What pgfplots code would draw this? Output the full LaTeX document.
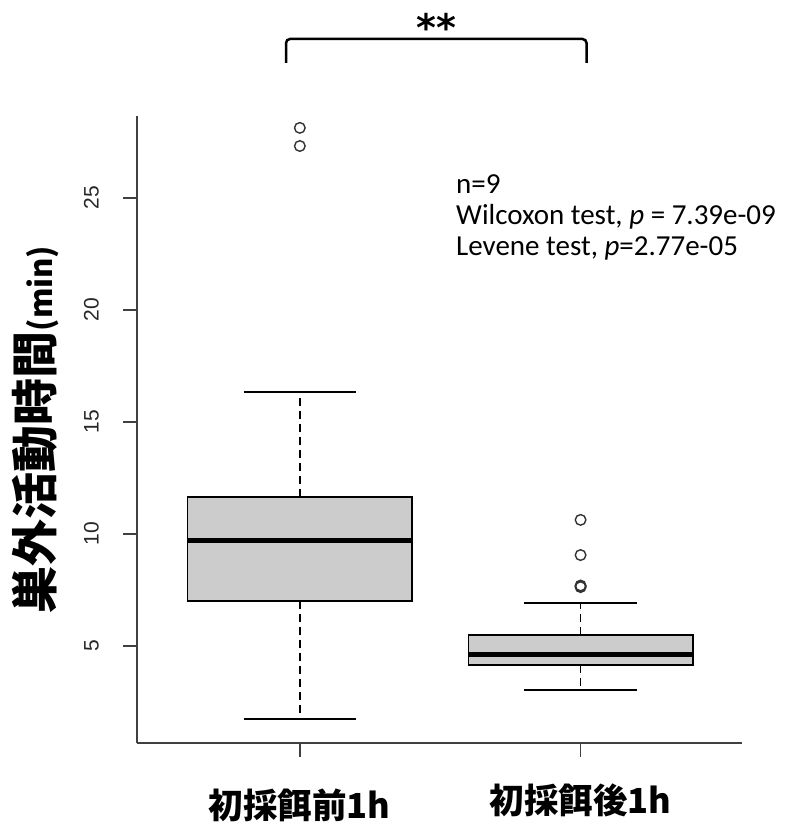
\documentclass[border=0pt]{standalone}
\usepackage{fontspec}
\usepackage{pgfplots}
\pgfplotsset{compat=1.18}
\usepgfplotslibrary{statistics}
\setmainfont{Carlito}
\newfontfamily\cjk{Noto Sans CJK JP}
\newfontfamily\arial{Liberation Sans}
\newfontfamily\djv{DejaVu Sans}
\pgfplotsset{
  boxplot/draw/lower whisker/.code={%
    \draw[dash pattern=on 8pt off 5pt, line width=1.4pt]
      (boxplot box cs:\pgfplotsboxplotvalue{lower quartile},0.5) --
      (boxplot box cs:\pgfplotsboxplotvalue{lower whisker},0.5);
    \draw[line width=1.4pt]
      (boxplot whisker cs:\pgfplotsboxplotvalue{lower whisker},0) --
      (boxplot whisker cs:\pgfplotsboxplotvalue{lower whisker},1);
  },
  boxplot/draw/upper whisker/.code={%
    \draw[dash pattern=on 8pt off 5pt, line width=1.4pt]
      (boxplot box cs:\pgfplotsboxplotvalue{upper quartile},0.5) --
      (boxplot box cs:\pgfplotsboxplotvalue{upper whisker},0.5);
    \draw[line width=1.4pt]
      (boxplot whisker cs:\pgfplotsboxplotvalue{upper whisker},0) --
      (boxplot whisker cs:\pgfplotsboxplotvalue{upper whisker},1);
  },
}
\begin{document}
\begin{tikzpicture}
\path[use as bounding box] (0pt,0pt) rectangle (785pt,824pt);
\begin{axis}[
  at={(137pt,81pt)}, anchor=south west,
  scale only axis, width=605pt, height=627pt,
  xmin=0.42, xmax=2.575, ymin=0.67, ymax=28.66,
  axis x line*=bottom, axis y line*=left,
  axis line style={black!75, line width=1.6pt},
  tick style={black!75, line width=1.6pt},
  tick align=outside, major tick length=14pt,
  xtick={1,2},
  xticklabels={初採餌前1h, \raisebox{5pt}{初採餌後1h}},
  xticklabel style={font=\cjk\bfseries\fontsize{34.5}{34.5}\selectfont, anchor=base, inner sep=0pt, yshift=-61pt},
  ytick={5,10,15,20,25},
  yticklabels={5,10,15,20,25},
  yticklabel style={font=\arial\fontsize{21}{21}\selectfont, text=black!85, rotate=90, anchor=south, inner sep=0pt, yshift=24pt},
  ylabel={\fontsize{47}{47}\selectfont 巣外活動時間{\fontsize{31}{31}\selectfont (min)}},
  every axis y label/.style={at={(axis description cs:-0.168,0.5)}, rotate=90, anchor=center, font=\cjk\bfseries, inner sep=0pt},
  clip=false,
  boxplot/draw direction=y,
  boxplot/every median/.style={line width=5pt},
]
\addplot[draw=black, fill=black!20, line width=1.4pt,
  boxplot prepared={draw position=1, box extend=0.8, whisker extend=0.4,
    lower whisker=1.74, lower quartile=7.01, median=9.69,
    upper quartile=11.65, upper whisker=16.34},
  mark=o, mark size=5.3pt, mark options={line width=1.4pt, draw=black!80, fill=none}]
  table[row sep=\\, y index=0] {28.13\\ 27.32\\};
\addplot[draw=black, fill=black!20, line width=1.4pt,
  boxplot prepared={draw position=2, box extend=0.8, whisker extend=0.4,
    lower whisker=3.04, lower quartile=4.15, median=4.64,
    upper quartile=5.49, upper whisker=6.92},
  mark=o, mark size=5.3pt, mark options={line width=1.4pt, draw=black!80, fill=none}]
  table[row sep=\\, y index=0] {10.63\\ 9.06\\ 7.70\\ 7.63\\ 7.66\\};
\end{axis}
\draw[line width=2.5pt, rounded corners=4pt] (286pt,761pt) -- (286pt,785pt) -- (586.5pt,785pt) -- (586.5pt,761pt);
\node[anchor=north, inner sep=0pt] at (436pt,811pt) {\djv\bfseries\fontsize{38}{38}\selectfont **};
\node[anchor=base west, inner sep=0pt] at (456pt,630pt) {\fontsize{29}{31}\selectfont n=9};
\node[anchor=base west, inner sep=0pt] at (456pt,599pt) {\fontsize{29}{31}\selectfont Wilcoxon test, \textit{p} = 7.39e-09};
\node[anchor=base west, inner sep=0pt] at (456pt,568pt) {\fontsize{29}{31}\selectfont Levene test, \textit{p}=2.77e-05};
\end{tikzpicture}
\end{document}
